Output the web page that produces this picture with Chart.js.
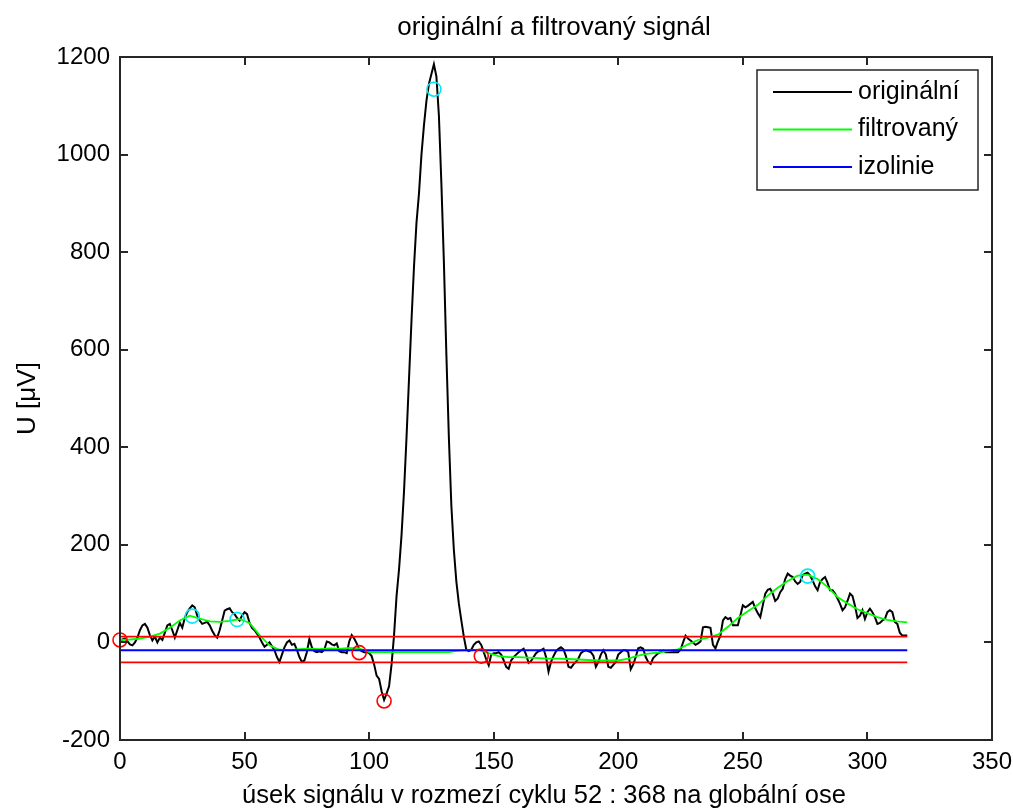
<!DOCTYPE html>
<html>
<head>
<meta charset="utf-8">
<title>originální a filtrovaný signál</title>
<script src="https://cdn.jsdelivr.net/npm/chart.js@4.4.1/dist/chart.umd.min.js"></script>
<style>
  html, body { margin: 0; padding: 0; background: #fff; }
</style>
</head>
<body>
<canvas id="sigChart" width="1013" height="809"></canvas>
<script>
// --- DATA ---
// original signal, one value per sample (x = sample index 0..316)
const sigY = [
  4, 6, 8, 2, -4, -6, 0, 10, 25, 35,
  38, 30, 15, 4, 12, 0, 10, 5, 20, 35,
  38, 25, 10, 25, 40, 30, 50, 62, 70, 76,
  72, 55, 45, 38, 40, 42, 35, 24, 15, 10,
  25, 45, 65, 68, 70, 62, 58, 50, 45, 55,
  62, 58, 40, 30, 25, 18, 10, 0, -9, -5,
  0, -8, -16, -30, -40, -25, -10, 0, 4, -5,
  -3, -15, -30, -40, -37, -20, 7, -10, -18, -20,
  -18, -20, -15, 2, 0, -4, -6, -2, -18, -20,
  -20, -22, 2, 15, 8, -2, -14, -18, -20, -20,
  -22, -28, -45, -68, -75, -100, -118, -105, -90, -45,
  15, 95, 150, 220, 310, 420, 540, 660, 770, 860,
  920, 1000, 1060, 1110, 1145, 1165, 1185, 1160, 1080, 940,
  780, 590, 420, 280, 190, 125, 80, 45, 12, -15,
  -18, -15, -5, 0, 2, -5, -20, -35, -47, -25,
  -22, -22, -20, -25, -37, -50, -54, -37, -30, -25,
  -20, -16, -13, -25, -42, -38, -30, -22, -18, -16,
  -13, -30, -60, -40, -28, -18, -13, -10, -14, -28,
  -50, -52, -45, -40, -33, -22, -18, -16, -18, -20,
  -27, -50, -40, -25, -16, -25, -50, -52, -46, -40,
  -25, -20, -16, -16, -20, -55, -45, -30, -12, -10,
  -13, -30, -40, -44, -32, -27, -22, -20, -17, -20,
  -20, -20, -20, -20, -20, -15, 0, 14, 8, 4,
  0, -5, -2, 2, 31, 32, 31, 30, -5, -12,
  2, 14, 45, 52, 48, 50, 35, 35, 35, 55,
  76, 72, 75, 79, 83, 70, 60, 52, 76, 100,
  108, 110, 100, 85, 90, 103, 110, 130, 141, 137,
  134, 125, 120, 124, 138, 141, 143, 137, 127, 115,
  107, 124, 130, 134, 122, 107, 107, 100, 90, 79,
  66, 72, 85, 100, 95, 75, 50, 55, 66, 48,
  62, 69, 62, 52, 38, 40, 45, 48, 62, 66,
  62, 42, 38, 20, 14, 14, 14
];

// filtered signal, read every 4 samples
const filtX = [
  0, 4, 8, 12, 16, 20, 24, 28, 32, 36,
  40, 44, 48, 52, 56, 60, 64, 68, 72, 76,
  80, 84, 88, 92, 96, 100, 104, 108, 112, 116,
  120, 124, 128, 132, 136, 140, 144, 148, 152, 156,
  160, 164, 168, 172, 176, 180, 184, 188, 192, 196,
  200, 204, 208, 212, 216, 220, 224, 228, 232, 236,
  240, 244, 248, 252, 256, 260, 264, 268, 272, 276,
  280, 284, 288, 292, 296, 300, 304, 308, 312, 316
];
const filtY = [
  5, 6, 8, 12, 18, 30, 45, 55, 49, 43,
  42, 44, 48, 40, 15, -6, -15, -16, -14, -13,
  -14, -12, -13, -11, -12, -20, -20, -20, -20, -20,
  -20, -20, -20, -20, -17, -16, -15, -22, -28, -30,
  -30, -31, -32, -33, -33, -34, -35, -36, -37, -37,
  -37, -33, -27, -23, -21, -18, -14, -4, 5, 10,
  16, 32, 50, 64, 77, 96, 112, 126, 137, 139,
  130, 114, 93, 80, 68, 60, 52, 46, 43, 41
];

// isoline and the two red limit lines
const izoX = [0, 316];
const izoY = [-16, -16];
const limX = [0, 316];
const limHiY = [12, 12];
const limLoY = [-41, -41];

// detected points
const redMarkX = [0, 96, 106, 145];
const redMarkY = [5, -21, -120, -28];
const cyanMarkX = [29, 47, 126, 276];
const cyanMarkY = [54, 47, 1134, 136];

const xTicks = [0, 50, 100, 150, 200, 250, 300, 350];
const yTicks = [-200, 0, 200, 400, 600, 800, 1000, 1200];
const legendNames = ['originální', 'filtrovaný', 'izolinie'];
const titleText = 'originální a filtrovaný signál';
const xLabelText = 'úsek signálu v rozmezí cyklu 52 : 368 na globální ose';

// --- HELPERS ---
const FONT = 'Liberation Sans, Arial, Helvetica, sans-serif';

function pts(xs, ys) { return xs.map((x, i) => ({ x: x, y: ys[i] })); }

// box around the axes + inward ticks on all four sides (matlab style)
const frame = {
  id: 'frame',
  afterDatasetsDraw(chart) {
    const c = chart.ctx, a = chart.chartArea;
    const xs = chart.scales.x, ys = chart.scales.y;
    const tl = 8;
    c.save();
    c.strokeStyle = '#262626';
    c.lineWidth = 2;
    c.strokeRect(a.left, a.top, a.right - a.left, a.bottom - a.top);
    c.beginPath();
    xTicks.forEach(v => {
      const px = Math.round(xs.getPixelForValue(v));
      c.moveTo(px, a.bottom); c.lineTo(px, a.bottom - tl);
      c.moveTo(px, a.top); c.lineTo(px, a.top + tl);
    });
    yTicks.forEach(v => {
      const py = Math.round(ys.getPixelForValue(v));
      c.moveTo(a.left, py); c.lineTo(a.left + tl, py);
      c.moveTo(a.right, py); c.lineTo(a.right - tl, py);
    });
    c.stroke();
    c.restore();
  }
};

// title and x label centred over the axes, like matlab does
const axesTexts = {
  id: 'axesTexts',
  afterDraw(chart) {
    const c = chart.ctx, a = chart.chartArea;
    const mid = (a.left + a.right) / 2;
    c.save();
    c.fillStyle = '#000';
    c.textAlign = 'center';
    c.textBaseline = 'middle';
    c.font = '26px ' + FONT;
    c.fillText(titleText, mid - 2, 28);
    c.font = '25.5px ' + FONT;
    c.fillText(xLabelText, mid - 12, a.bottom + 56);
    c.restore();
  }
};

// legend box in the upper right corner of the axes
const legendBox = {
  id: 'legendBox',
  afterDraw(chart) {
    const c = chart.ctx, a = chart.chartArea;
    const left = a.right - 235, top = a.top + 13, w = 221, h = 120;
    c.save();
    c.fillStyle = '#fff';
    c.fillRect(left, top, w, h);
    c.strokeStyle = '#262626';
    c.lineWidth = 1.5;
    c.strokeRect(left, top, w, h);
    c.font = '25px ' + FONT;
    c.textBaseline = 'middle';
    c.textAlign = 'left';
    legendNames.forEach((name, i) => {
      const ds = chart.data.datasets.find(d => d.label === name);
      const y = top + 22 + i * 37.5;
      c.strokeStyle = ds.borderColor;
      c.lineWidth = 2;
      c.beginPath();
      c.moveTo(left + 16, y); c.lineTo(left + 95, y);
      c.stroke();
      c.fillStyle = '#000';
      c.fillText(name, left + 101, y);
    });
    c.restore();
  }
};

// --- CHART ---
const lineBase = { pointRadius: 0, borderWidth: 1.8, tension: 0, fill: false };
const markBase = {
  showLine: false, pointStyle: 'circle', pointRadius: 7, pointBorderWidth: 1.6,
  pointBackgroundColor: 'rgba(0,0,0,0)', backgroundColor: 'rgba(0,0,0,0)', clip: false, order: 0
};

new Chart(document.getElementById('sigChart'), {
  type: 'line',
  data: {
    datasets: [
      Object.assign({}, lineBase, { label: 'originální', data: sigY.map((y, i) => ({ x: i, y: y })), borderColor: '#000000', borderWidth: 2, order: 5 }),
      Object.assign({}, lineBase, { label: 'filtrovaný', data: pts(filtX, filtY), borderColor: '#00ff00', order: 4 }),
      Object.assign({}, lineBase, { label: 'izolinie', data: pts(izoX, izoY), borderColor: '#0000ff', order: 3 }),
      Object.assign({}, lineBase, { label: 'horní mez', data: pts(limX, limHiY), borderColor: '#ff0000', order: 2 }),
      Object.assign({}, lineBase, { label: 'dolní mez', data: pts(limX, limLoY), borderColor: '#ff0000', order: 2 }),
      Object.assign({}, markBase, { label: 'min', data: pts(redMarkX, redMarkY), borderColor: '#ff0000', pointBorderColor: '#ff0000' }),
      Object.assign({}, markBase, { label: 'max', data: pts(cyanMarkX, cyanMarkY), borderColor: '#00e8f0', pointBorderColor: '#00e8f0' })
    ]
  },
  options: {
    responsive: false,
    animation: false,
    events: [],
    layout: { padding: { left: 0, right: 21, top: 57, bottom: 0 } },
    plugins: {
      legend: { display: false },
      tooltip: { enabled: false },
      title: { display: false }
    },
    scales: {
      x: {
        type: 'linear',
        min: 0,
        max: 350,
        afterBuildTicks: s => { s.ticks = xTicks.map(v => ({ value: v })); },
        afterFit: s => { s.height = 69; s.paddingLeft = 0; s.paddingRight = 0; },
        grid: { display: false, drawTicks: false },
        border: { display: false },
        ticks: { color: '#000', font: { family: FONT, size: 24 }, padding: 8, maxRotation: 0, autoSkip: false, callback: v => String(v) },
        title: { display: false }
      },
      y: {
        type: 'linear',
        min: -200,
        max: 1200,
        afterBuildTicks: s => { s.ticks = yTicks.map(v => ({ value: v })); },
        afterFit: s => { s.width = 120; s.paddingTop = 0; s.paddingBottom = 0; },
        grid: { display: false, drawTicks: false },
        border: { display: false },
        ticks: { color: '#000', font: { family: FONT, size: 24 }, padding: 10, autoSkip: false, callback: v => String(v) },
        title: {
          display: true,
          text: 'U [μV]',
          color: '#000',
          font: { family: FONT, size: 26, lineHeight: 1 },
          padding: { top: 15, bottom: 0 }
        }
      }
    }
  },
  plugins: [frame, axesTexts, legendBox]
});
</script>
</body>
</html>
